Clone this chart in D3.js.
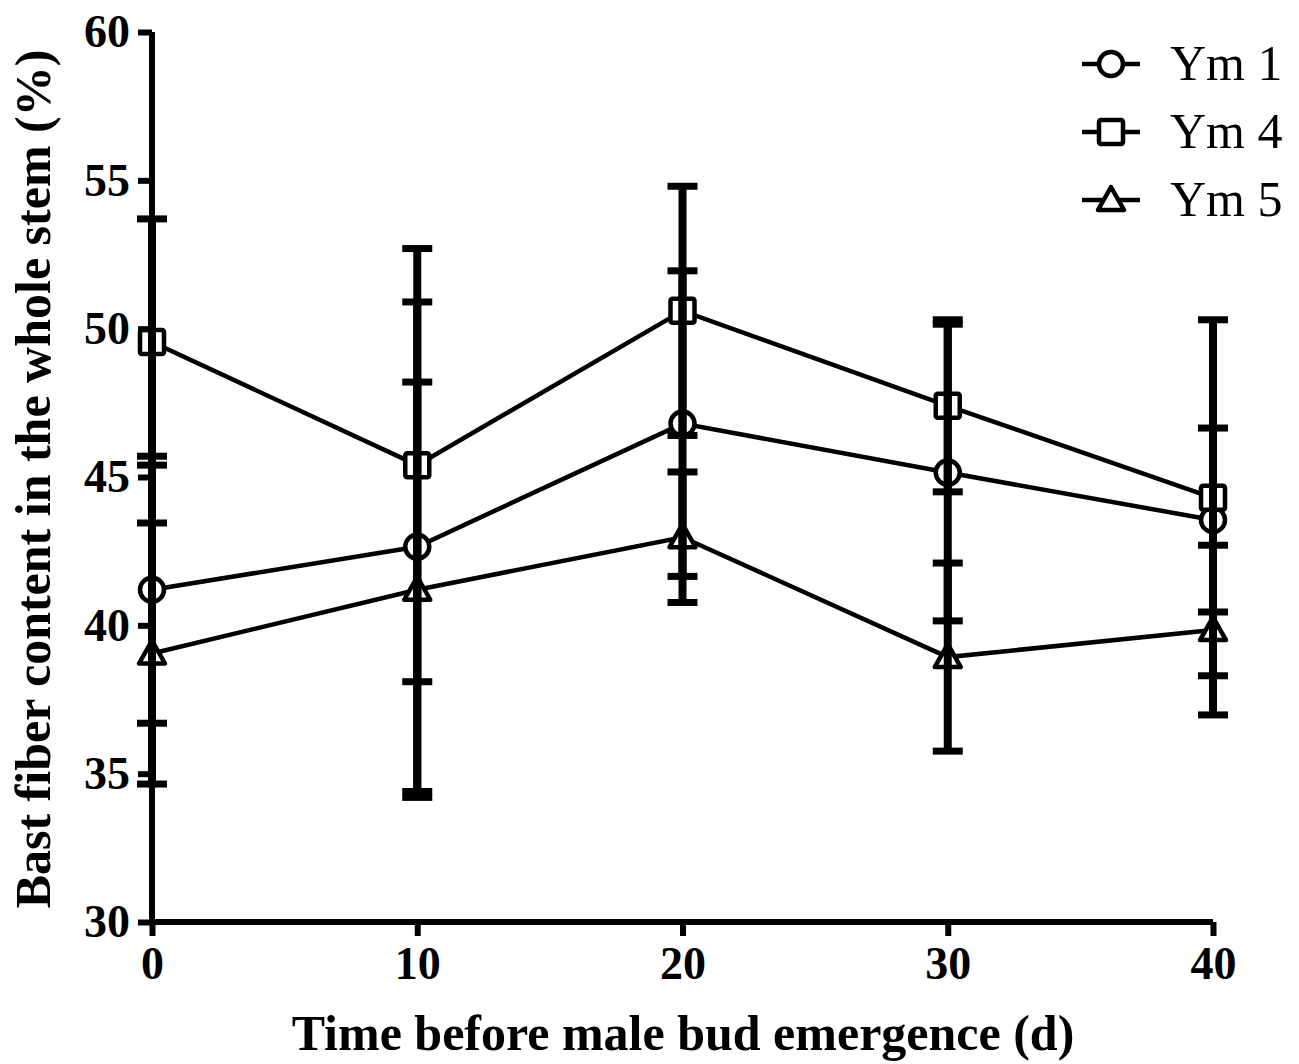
<!DOCTYPE html>
<html>
<head>
<meta charset="utf-8">
<script src="https://d3js.org/d3.v7.min.js"></script>
<style>
  body { margin: 0; background: #fff; }
  svg text { font-family: "Liberation Serif", "Times New Roman", serif; }
</style>
</head>
<body>
<svg id="chart" width="1299" height="1064"></svg>
<script>
// data
const days = [0, 10, 20, 30, 40];
const seriesNames = ['Ym 1', 'Ym 4', 'Ym 5'];
const ym1Mean = [41.2, 42.65, 46.8, 45.15, 43.55];
const ym1Err  = [4.5, 8.25, 5.15, 5.0, 3.1];
const ym4Mean = [49.55, 45.4, 50.6, 47.4, 44.3];
const ym4Err  = [4.15, 7.3, 4.2, 2.9, 6.0];
const ym5Mean = [39.05, 41.2, 42.97, 38.93, 39.84];
const ym5Err  = [4.4, 7.0, 2.2, 3.17, 2.86];
const yTicks = [30, 35, 40, 45, 50, 55, 60];
const xTicks = [0, 10, 20, 30, 40];

const series = [
  { name: seriesNames[0], mean: ym1Mean, err: ym1Err, shape: 'circle' },
  { name: seriesNames[1], mean: ym4Mean, err: ym4Err, shape: 'square' },
  { name: seriesNames[2], mean: ym5Mean, err: ym5Err, shape: 'triangle' }
];

const svg = d3.select('#chart');
const x = d3.scaleLinear().domain([0, 40]).range([152, 1213]);
const y = d3.scaleLinear().domain([30, 60]).range([922, 32]);

function drawMarker(g, shape, cx, cy) {
  if (shape === 'circle') {
    g.append('circle').attr('cx', cx).attr('cy', cy).attr('r', 12);
  } else if (shape === 'square') {
    g.append('rect').attr('x', cx - 12).attr('y', cy - 12)
      .attr('width', 24).attr('height', 24).attr('rx', 2);
  } else {
    g.append('path').attr('d', `M${cx},${cy - 13}L${cx + 13},${cy + 10}L${cx - 13},${cy + 10}Z`)
      .attr('stroke-linejoin', 'round');
  }
}

// connecting lines
const line = d3.line().x((d, i) => x(days[i])).y(d => y(d));
series.forEach(s => {
  svg.append('path').attr('d', line(s.mean))
    .attr('fill', 'none').attr('stroke', '#000').attr('stroke-width', 4.5);
});

// markers
series.forEach(s => {
  const g = svg.append('g').attr('fill', '#fff').attr('stroke', '#000').attr('stroke-width', 4.5);
  s.mean.forEach((m, i) => drawMarker(g, s.shape, x(days[i]), y(m)));
});

// error bars (drawn over the markers)
series.forEach(s => {
  const g = svg.append('g').attr('stroke', '#000');
  s.mean.forEach((m, i) => {
    const cx = x(days[i]);
    const hi = y(m + s.err[i]), lo = y(m - s.err[i]);
    g.append('line').attr('x1', cx).attr('x2', cx).attr('y1', hi).attr('y2', lo).attr('stroke-width', 8);
    [hi, lo].forEach(v => {
      g.append('line').attr('x1', cx - 15).attr('x2', cx + 15).attr('y1', v).attr('y2', v).attr('stroke-width', 7);
    });
  });
});

// axes
const yAxis = svg.append('g').attr('transform', 'translate(152,0)')
  .call(d3.axisLeft(y).tickValues(yTicks).tickSize(14).tickPadding(8));
const xAxis = svg.append('g').attr('transform', 'translate(0,922)')
  .call(d3.axisBottom(x).tickValues(xTicks).tickSize(14).tickPadding(10));
[yAxis, xAxis].forEach(a => {
  a.select('.domain').attr('stroke-width', 6).attr('stroke', '#000');
  a.selectAll('.tick line').attr('stroke-width', 6).attr('stroke', '#000');
  a.selectAll('.tick text').attr('fill', '#000')
    .style('font-family', '"Liberation Serif", serif')
    .style('font-size', '46px').style('font-weight', 'bold');
});
xAxis.selectAll('.domain').attr('d', `M${x(0)},0H${x(40)}`);
yAxis.selectAll('.domain').attr('d', `M0,${y(30)}V${y(60)}`);

// axis titles
svg.append('text').attr('x', 683).attr('y', 1050).attr('text-anchor', 'middle')
  .style('font-size', '50px').style('font-weight', 'bold')
  .text('Time before male bud emergence (d)');
svg.append('text').attr('transform', 'translate(50,479) rotate(-90)').attr('text-anchor', 'middle')
  .style('font-size', '50px').style('font-weight', 'bold')
  .text('Bast fiber content in the whole stem (%)');

// legend
const legend = svg.append('g');
series.forEach((s, i) => {
  const ly = 64 + i * 68;
  legend.append('line').attr('x1', 1082).attr('x2', 1140).attr('y1', ly).attr('y2', ly)
    .attr('stroke', '#000').attr('stroke-width', 4.5);
  const mg = legend.append('g').attr('fill', '#fff').attr('stroke', '#000').attr('stroke-width', 4.5);
  drawMarker(mg, s.shape, 1111, ly);
  legend.append('text').attr('x', 1170).attr('y', ly + 16)
    .style('font-size', '50px').text(s.name);
});
</script>
</body>
</html>
